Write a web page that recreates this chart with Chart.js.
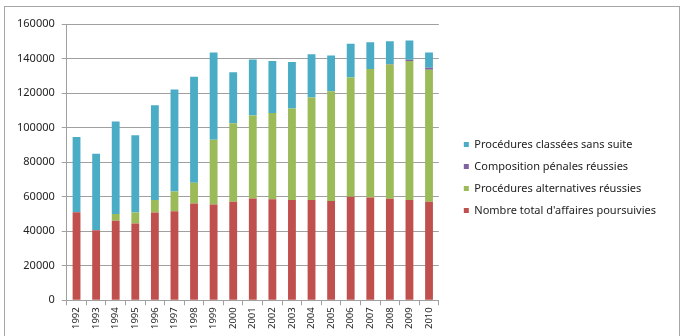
<!DOCTYPE html>
<html>
<head>
<meta charset="utf-8">
<script src="https://cdn.jsdelivr.net/npm/chart.js@4"></script>
<style>
  html, body { margin: 0; padding: 0; background: #fff; }
  #frame {
    position: absolute; left: 4px; top: 6px; width: 674px; height: 340px;
    border: 1px solid #a6a6a6;
  }
  #wrap { position: absolute; left: 0; top: 0; width: 682px; height: 336px; }
</style>
</head>
<body>
<div id="frame"></div>
<div id="wrap"><canvas id="bar-chart"></canvas></div>
<script>
// -- THE DATA --
const years = ['1992','1993','1994','1995','1996','1997','1998','1999','2000','2001',
               '2002','2003','2004','2005','2006','2007','2008','2009','2010'];

// Nombre total d'affaires poursuivies
const poursuivies = [51000,40500,46000,44500,50800,51500,56000,55500,57000,59000,
                     58500,58000,58000,57500,60000,59500,58800,58000,57000];
// Procédures alternatives réussies
const alternatives = [0,0,4000,6300,7200,11500,12000,37500,45500,48000,
                      50000,53000,59500,63500,69000,74500,77700,80500,76500];
// Composition pénales réussies
const compositions = [0,0,0,0,0,0,0,0,0,0,
                      0,0,0,0,0,0,300,800,1200];
// Procédures classées sans suite
const classees = [43500,44300,53500,44700,55000,59000,61500,50500,29500,32500,
                  30000,27000,25000,20800,19500,15500,13200,11200,8800];

const yTicks = [0,20000,40000,60000,80000,100000,120000,140000,160000];

// -- THE CHART --
const gridGrey = '#a0a0a0';
const ctx = document.getElementById('bar-chart').getContext('2d');
new Chart(ctx, {
  type: 'bar',
  data: {
    labels: years,
    datasets: [
      { label: "Nombre total d'affaires poursuivies", data: poursuivies, backgroundColor: '#c0504d' },
      { label: 'Procédures alternatives réussies', data: alternatives, backgroundColor: '#9bbb59' },
      { label: 'Composition pénales réussies', data: compositions, backgroundColor: '#8064a2' },
      { label: 'Procédures classées sans suite', data: classees, backgroundColor: '#4bacc6' }
    ]
  },
  options: {
    responsive: true,
    maintainAspectRatio: false,
    animation: false,
    datasets: { bar: { barPercentage: 0.4, categoryPercentage: 1 } },
    layout: { padding: { left: 10, top: 24, right: 16, bottom: 5 } },
    scales: {
      x: {
        stacked: true,
        grid: { display: true, drawOnChartArea: false, offset: true, color: gridGrey, tickLength: 5 },
        border: { color: gridGrey },
        ticks: {
          minRotation: 90, maxRotation: 90, autoSkip: false, padding: 2,
          color: '#222', font: { family: 'Noto Sans', size: 9.5 }
        }
      },
      y: {
        stacked: true,
        min: 0, max: 160000,
        afterBuildTicks: axis => { axis.ticks = yTicks.map(v => ({ value: v })); },
        grid: { color: gridGrey, tickLength: 5 },
        border: { color: gridGrey },
        ticks: {
          padding: 7, color: '#222', font: { family: 'Noto Sans', size: 11 },
          callback: v => String(v)
        }
      },
      // empty spacer between the plot and the legend
      gap: {
        type: 'linear', position: 'right', display: true,
        grid: { display: false }, border: { display: false }, ticks: { display: false },
        afterFit: s => { s.width = 14; }
      }
    },
    plugins: {
      tooltip: { enabled: false },
      legend: {
        position: 'right',
        reverse: true,
        maxWidth: 260,
        labels: {
          boxWidth: 5, boxHeight: 5, padding: 11,
          color: '#222', font: { family: 'Noto Sans', size: 11 }
        }
      }
    }
  }
});
</script>
</body>
</html>
